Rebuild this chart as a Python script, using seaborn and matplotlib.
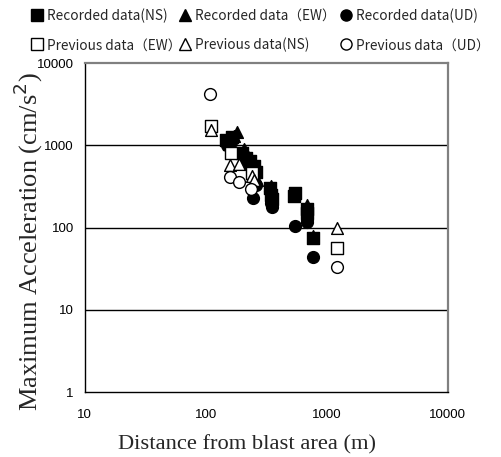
import matplotlib
matplotlib.use("Agg")
import matplotlib.pyplot as plt
import seaborn as sns
import pandas as pd
from matplotlib.lines import Line2D

# ---- data ----
rec_ns_x = [148, 155, 165, 200, 215, 230, 250, 260, 340, 345, 350, 545, 540, 680, 690, 770]
rec_ns_y = [1160, 1050, 1250, 800, 700, 650, 560, 480, 300, 250, 220, 260, 240, 170, 150, 74]

rec_ew_x = [180, 170, 205, 220, 240, 255, 265, 345, 350, 690, 680, 770]
rec_ew_y = [1450, 1300, 900, 760, 650, 500, 380, 320, 270, 190, 140, 80]

rec_ud_x = [150, 160, 210, 240, 245, 260, 340, 345, 350, 545, 680, 690, 770]
rec_ud_y = [1000, 1100, 600, 470, 230, 330, 280, 200, 180, 104, 125, 118, 44]

prev_ew_x = [110, 160, 241, 1216]
prev_ew_y = [1700, 800, 456, 57]

prev_ns_x = [110, 158, 187, 241, 250, 1216]
prev_ns_y = [1530, 575, 600, 420, 380, 98]

prev_ud_x = [109, 158, 187, 238, 1216]
prev_ud_y = [4170, 415, 361, 292, 33]

x_ticks = [10, 100, 1000, 10000]
y_ticks = [1, 10, 100, 1000, 10000]
x_tick_labels = ["10", "100", "1000", "10000"]
y_tick_labels = ["1", "10", "100", "1000", "10000"]

series = [
    ("Recorded data(NS)", rec_ns_x, rec_ns_y, "s", True),
    ("Recorded data（EW）", rec_ew_x, rec_ew_y, "^", True),
    ("Recorded data(UD)", rec_ud_x, rec_ud_y, "o", True),
    ("Previous data（EW）", prev_ew_x, prev_ew_y, "s", False),
    ("Previous data(NS)", prev_ns_x, prev_ns_y, "^", False),
    ("Previous data（UD）", prev_ud_x, prev_ud_y, "o", False),
]

sns.set_style("white")
plt.rcParams["font.family"] = ["Liberation Sans", "DejaVu Sans"]

fig = plt.figure(figsize=(5.02, 4.57), dpi=100)
ax = fig.add_axes([0.169, 0.142, 0.723, 0.720])

for name, xs, ys, mk, filled in series:
    df = pd.DataFrame({"x": xs, "y": ys})
    sns.scatterplot(data=df, x="x", y="y", ax=ax, marker=mk, s=72,
                    color="black" if filled else "white",
                    edgecolor="black", linewidth=1.0, zorder=3 if filled else 4)

ax.set_xscale("log")
ax.set_yscale("log")
ax.set_xlim(10, 10000)
ax.set_ylim(1, 10000)
ax.set_xticks(x_ticks)
ax.set_xticklabels(x_tick_labels)
ax.set_yticks(y_ticks)
ax.set_yticklabels(y_tick_labels)
ax.minorticks_off()
ax.tick_params(axis="both", direction="in", length=4, width=1, colors="black",
               labelsize=9.5)
ax.tick_params(axis="x", pad=12)
ax.tick_params(axis="y", pad=8)
for yv in [10, 100, 1000]:
    ax.axhline(yv, color="black", linewidth=1.0, zorder=1)

for side in ["left", "bottom"]:
    ax.spines[side].set_color("black")
    ax.spines[side].set_linewidth(1.0)
for side in ["top", "right"]:
    ax.spines[side].set_color("#808080")
    ax.spines[side].set_linewidth(1.6)

ax.set_xlabel("Distance from blast area (m)", family="Liberation Serif",
              fontsize=16.2)
ax.xaxis.set_label_coords(0.448, -0.130)
ax.set_ylabel("Maximum Acceleration (cm/s$^2$)", family="Liberation Serif",
              fontsize=19)
ax.yaxis.set_label_coords(-0.11, 0.456)

handles = []
for name, xs, ys, mk, filled in series:
    handles.append(Line2D([], [], linestyle="none", marker=mk, markersize=8,
                          markerfacecolor="black" if filled else "white",
                          markeredgecolor="black", markeredgewidth=1.0, label=name))

col_left = [0.060, 0.354, 0.676]
columns = [[0, 3], [1, 4], [2, 5]]
for cx, idx in zip(col_left, columns):
    leg = fig.legend([handles[i] for i in idx], [series[i][0] for i in idx],
                     loc="upper left", bbox_to_anchor=(cx, 0.981), frameon=False,
                     prop={"family": ["Noto Sans CJK JP", "DejaVu Sans"], "size": 9.8},
                     handletextpad=0.25, labelspacing=1.1, handlelength=1.0,
                     borderpad=0.0, borderaxespad=0.0)

fig.savefig("out.png", dpi=100)
